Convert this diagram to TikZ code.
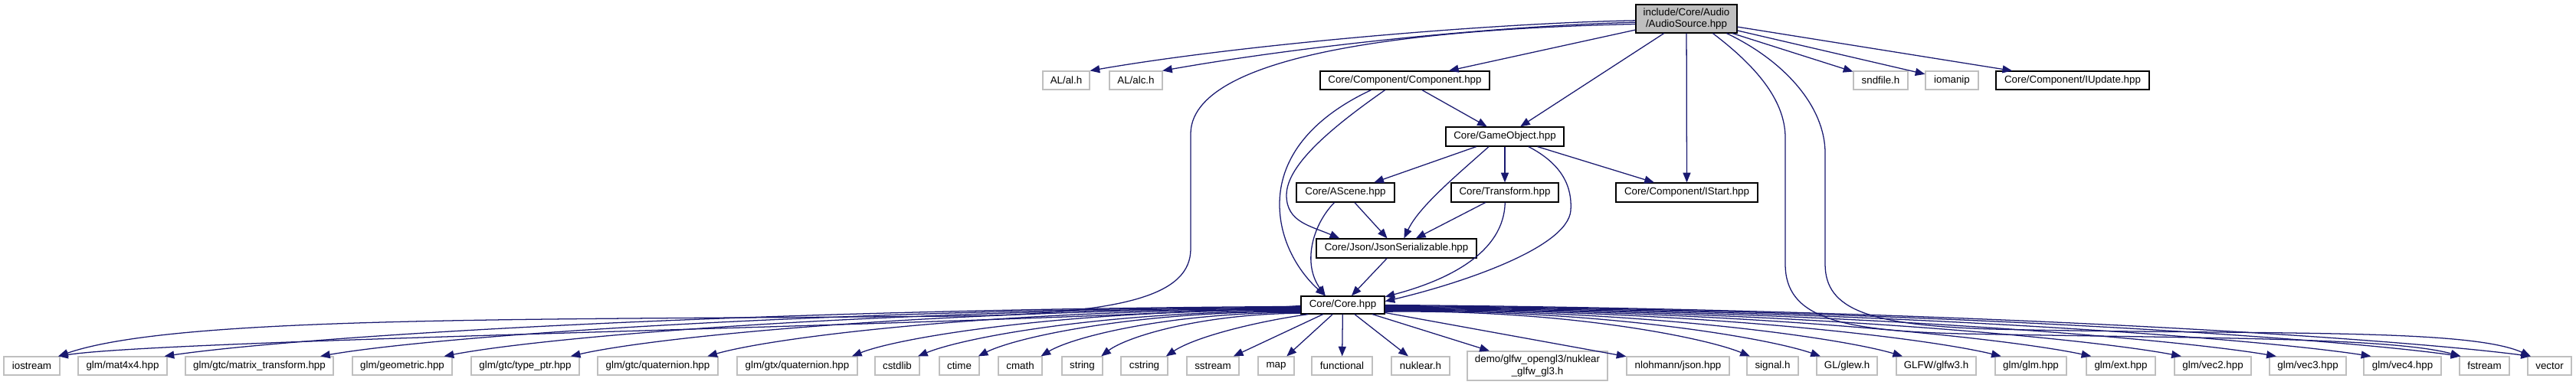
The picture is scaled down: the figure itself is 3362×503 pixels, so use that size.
\documentclass[tikz,border=0pt]{standalone}
\usepackage{fontspec}
\setmainfont{Liberation Sans}
\usetikzlibrary{arrows.meta}
\definecolor{edgec}{HTML}{191970}
\definecolor{greyb}{HTML}{BFBFBF}
\begin{document}
\begin{tikzpicture}[x=0.75pt,y=-0.75pt,
  nodebox/.style={draw, line width=0.9pt, inner sep=0pt, minimum height=18pt, align=center,
    font=\fontsize{10}{11.5}\selectfont, fill=white},
  ext/.style={nodebox, draw=greyb},
  doc/.style={nodebox, draw=black},
  bw/.style={minimum width=#1*0.75pt},
  bh/.style={minimum height=#1*0.75pt},
  dep/.style={draw=edgec, line width=0.95pt, -{Triangle[length=9.5pt,width=7.5pt]}}
]
\fill[white] (0,0) rectangle (3362,503);
\useasboundingbox (0,0) rectangle (3362,503);

% top
\node[doc, fill=greyb, bw=132, bh=37] (audio) at (2201,24.5) {include/Core/Audio\\/AudioSource.hpp};
% row 2
\node[ext, bw=61] (al) at (1391.5,105) {AL/al.h};
\node[ext, bw=69] (alc) at (1482.5,105) {AL/alc.h};
\node[doc, bw=221] (component) at (1833.5,105) {Core/Component/Component.hpp};
\node[ext, bw=71] (sndfile) at (2454.5,105) {sndfile.h};
\node[ext, bw=69] (iomanip) at (2547.5,105) {iomanip};
\node[doc, bw=200] (iupdate) at (2705,105) {Core/Component/IUpdate.hpp};
% middle
\node[doc, bw=154, bh=25] (gameobj) at (1964,178.5) {Core/GameObject.hpp};
\node[doc, bw=128, bh=25] (ascene) at (1756,251.5) {Core/AScene.hpp};
\node[doc, bw=140, bh=25] (transform) at (1964,251.5) {Core/Transform.hpp};
\node[doc, bw=185, bh=25] (istart) at (2201.5,251.5) {Core/Component/IStart.hpp};
\node[doc, bw=209, bh=25] (json) at (1822.5,324.5) {Core/Json/JsonSerializable.hpp};
\node[doc, bw=109, bh=23] (core) at (1752.5,398.5) {Core/Core.hpp};
% bottom row
\node[ext, bw=73] (iostream) at (41.5,478) {iostream};
\node[ext, bw=116] (mat4x4) at (160,478) {glm/mat4x4.hpp};
\node[ext, bw=193] (mtrans) at (338.5,478) {glm/gtc/matrix\_transform.hpp};
\node[ext, bw=130] (geometric) at (525,478) {glm/geometric.hpp};
\node[ext, bw=141] (typeptr) at (685.5,478) {glm/gtc/type\_ptr.hpp};
\node[ext, bw=157] (gtcquat) at (858.5,478) {glm/gtc/quaternion.hpp};
\node[ext, bw=157] (gtxquat) at (1040.5,478) {glm/gtx/quaternion.hpp};
\node[ext, bw=58] (cstdlib) at (1171,478) {cstdlib};
\node[ext, bw=52] (ctime) at (1252,478) {ctime};
\node[ext, bw=57] (cmath) at (1331.5,478) {cmath};
\node[ext, bw=53] (string) at (1412.5,478) {string};
\node[ext, bw=61] (cstring) at (1493.5,478) {cstring};
\node[ext, bw=68] (sstream) at (1583,478) {sstream};
\node[ext, bw=47] (map) at (1665.5,478) {map};
\node[ext, bw=79] (functional) at (1751.5,478) {functional};
\node[ext, bw=76] (nuklear) at (1854,478) {nuklear.h};
\node[ext, bw=183, bh=38] (demo) at (2006.5,478) {demo/glfw\_opengl3/nuklear\\\_glfw\_gl3.h};
\node[ext, bw=134] (nlohmann) at (2190,478) {nlohmann/json.hpp};
\node[ext, bw=67] (signal) at (2313.5,478) {signal.h};
\node[ext, bw=79] (glew) at (2410.5,478) {GL/glew.h};
\node[ext, bw=104] (glfw) at (2527,478) {GLFW/glfw3.h};
\node[ext, bw=93] (glm) at (2650.5,478) {glm/glm.hpp};
\node[ext, bw=90] (glmext) at (2768,478) {glm/ext.hpp};
\node[ext, bw=100] (vec2) at (2888,478) {glm/vec2.hpp};
\node[ext, bw=100] (vec3) at (3012,478) {glm/vec3.hpp};
\node[ext, bw=101] (vec4) at (3135.5,478) {glm/vec4.hpp};
\node[ext, bw=65] (fstream) at (3242.5,478) {fstream};
\node[ext, bw=57] (vector) at (3327.5,478) {vector};

% AudioSource edges
\draw[dep] (audio.182) .. controls (1950,30) and (1620,58) .. (al.22);
\draw[dep] (audio.184) .. controls (1950,34) and (1700,60) .. (alc.20);
\draw[dep] (audio.186) .. controls (1750,40) and (1554,90) .. (1554,175) -- (1554,325)
  .. controls (1554,385) and (1470,410) .. (1250,413)
  .. controls (700,418) and (230,412) .. (iostream.20);
\draw[dep] (audio) -- (component);
\draw[dep] (audio) -- (gameobj);
\draw[dep] (audio) -- (istart);
\draw[dep] (audio) -- (sndfile);
\draw[dep] (audio) -- (iomanip);
\draw[dep] (audio) -- (iupdate);
\draw[dep] (audio.-29) .. controls (2290,85) and (2330,130) .. (2330,180) -- (2330,345)
  .. controls (2330,415) and (2400,432) .. (2560,436)
  .. controls (2850,442) and (3120,440) .. (fstream.158);
\draw[dep] (audio.-20) .. controls (2330,80) and (2382,140) .. (2382,200) -- (2382,345)
  .. controls (2382,405) and (2440,425) .. (2600,430)
  .. controls (2950,438) and (3220,428) .. (vector.153);

% Component edges
\draw[dep] (component) -- (gameobj);
\draw[dep] (component.206) .. controls (1740,165) and (1679,215) .. (1679,255)
  .. controls (1679,290) and (1710,295) .. (json.170);
\draw[dep] (component.196) .. controls (1720,150) and (1670,200) .. (1670,267)
  .. controls (1670,320) and (1700,360) .. (core.152);

% GameObject edges
\draw[dep] (gameobj) -- (ascene);
\draw[dep] (gameobj.212) .. controls (1900,230) and (1852,270) .. (json.53);
\draw[dep] (gameobj) -- (transform);
\draw[dep] (gameobj) -- (istart);
\draw[dep] (gameobj.-23) .. controls (2040,215) and (2052,245) .. (2050,275)
  .. controls (2046,325) and (1900,372) .. (core.5);

% AScene, Transform, Json
\draw[dep] (ascene) -- (json);
\draw[dep] (ascene.222) .. controls (1712,295) and (1700,345) .. (core.152);
\draw[dep] (transform) -- (json);
\draw[dep] (transform.-89) .. controls (1963,330) and (1890,366) .. (core.11);
\draw[dep] (json) -- (core);

% Core edges, left
\draw[dep] (core.181) .. controls (1300,425) and (220,443) .. (iostream.20);
\draw[dep] (core.182) .. controls (954,404) and (389,440) .. (mat4x4.13.5);
\draw[dep] (core.183) .. controls (1053,404) and (563,440) .. (mtrans.9.8);
\draw[dep] (core.184) .. controls (1138,404) and (712,440) .. (geometric.13);
\draw[dep] (core.185) .. controls (1219,404) and (855,440) .. (typeptr.12.4);
\draw[dep] (core.186) .. controls (1308,404) and (1012,440) .. (gtcquat.11.4);
\draw[dep] (core.187) .. controls (1401,404) and (1175,440) .. (gtxquat.10.7);
\draw[dep] (core.188) .. controls (1449,406) and (1260,440) .. (cstdlib.25);
\draw[dep] (core.189) .. controls (1487,406) and (1327,440) .. (ctime.27);
\draw[dep] (core.190) .. controls (1528,408) and (1400,440) .. (cmath.25);
\draw[dep] (core.191) .. controls (1568,410) and (1470,440) .. (string.27);
\draw[dep] (core.195) .. controls (1640,420) and (1560,440) .. (cstring.24);
\draw[dep] (core) -- (sstream);
\draw[dep] (core) -- (map);
\draw[dep] (core) -- (functional);
\draw[dep] (core) -- (nuklear);
\draw[dep] (core) -- (demo);
\draw[dep] (core) -- (nlohmann);
% Core edges, right
\draw[dep] (core.-9) .. controls (2046,404) and (2228,442) .. (signal.157);
\draw[dep] (core.-8) .. controls (2092,404) and (2309,442) .. (glew.160);
\draw[dep] (core.-7) .. controls (2146,404) and (2405,442) .. (glfw.164);
\draw[dep] (core.-6) .. controls (2210,404) and (2516,442) .. (glm.162);
\draw[dep] (core.-5) .. controls (2269,404) and (2620,442) .. (glmext.162);
\draw[dep] (core.-4) .. controls (2327,404) and (2723,442) .. (vec2.163);
\draw[dep] (core.-3) .. controls (2389,404) and (2832,442) .. (vec3.163);
\draw[dep] (core.-2) .. controls (2452,404) and (2942,442) .. (vec4.163);
\draw[dep] (core.-1) .. controls (2510,404) and (3044,442) .. (fstream.158);
\draw[dep] (core.0) .. controls (2555,404) and (3124,442) .. (vector.153);
\end{tikzpicture}
\end{document}
